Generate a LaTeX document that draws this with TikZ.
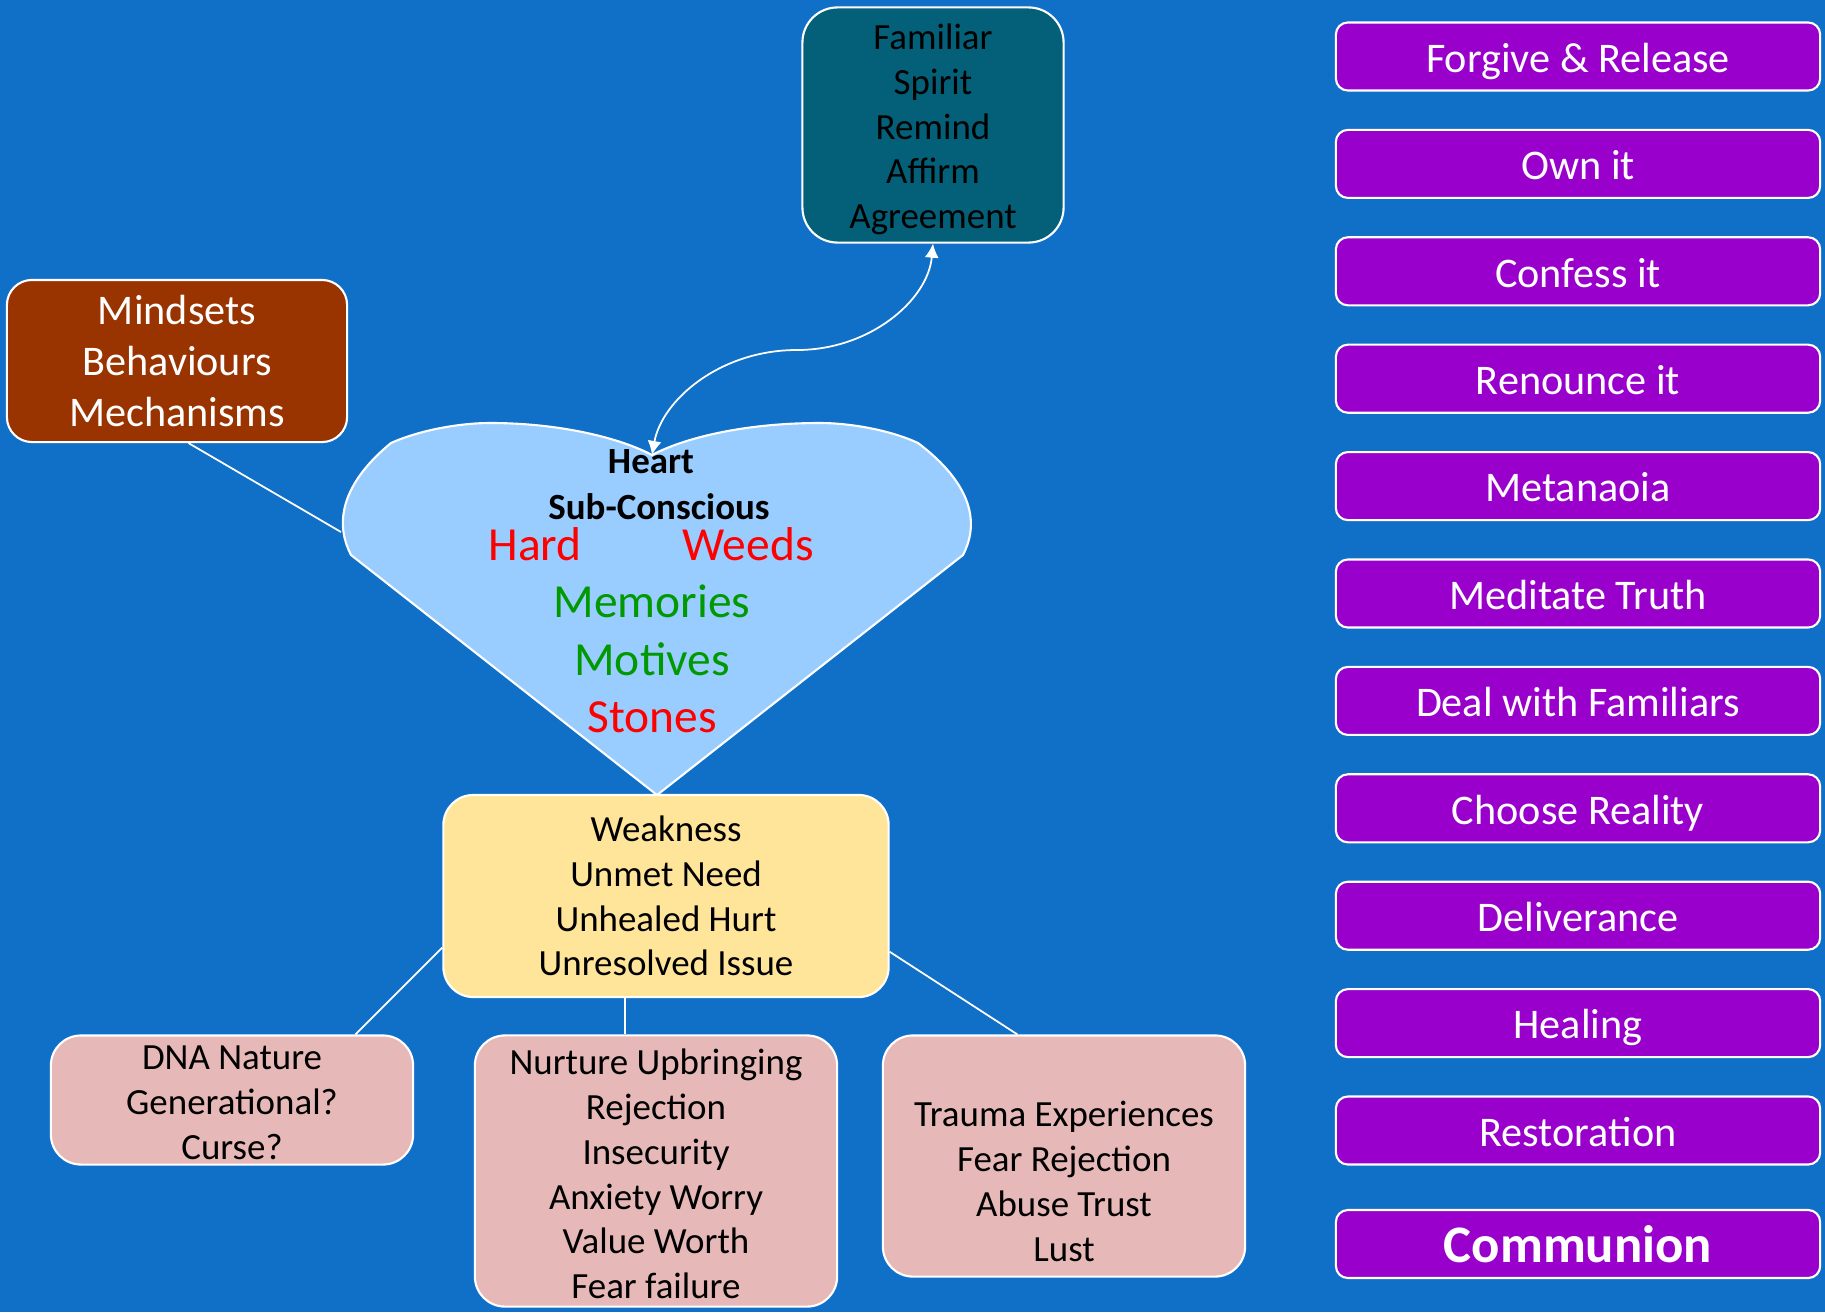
\documentclass[tikz,border=0pt]{standalone}
\usepackage{fontspec}
\setmainfont{Carlito}
\usetikzlibrary{arrows.meta}
\definecolor{bgblue}{RGB}{16,112,200}
\definecolor{teal}{RGB}{4,96,120}
\definecolor{brown}{RGB}{153,51,0}
\definecolor{heartblue}{RGB}{153,204,255}
\definecolor{weakyellow}{RGB}{255,229,153}
\definecolor{rootpink}{RGB}{230,185,184}
\definecolor{actpurple}{RGB}{153,0,204}
\definecolor{wordred}{RGB}{255,0,0}
\definecolor{wordgreen}{RGB}{0,153,0}

\tikzset{
  box/.style={draw=white, line width=0.6pt, align=center, inner sep=2pt},
  famtext/.style={font=\fontsize{10.5}{12.75}\selectfont},
  fambox/.style={box, famtext, fill=teal, rounded corners=0.35cm, minimum width=2.61cm, minimum height=2.35cm},
  mindbox/.style={box, fill=brown, text=white, rounded corners=0.25cm, minimum width=3.4cm, minimum height=1.62cm, font=\fontsize{12}{14.6}\selectfont},
  weakbox/.style={box, famtext, fill=weakyellow, rounded corners=0.3cm, minimum width=4.45cm, minimum height=2.02cm},
  rootbox/.style={box, famtext, fill=rootpink, rounded corners=0.3cm, minimum width=3.62cm},
  actbox/.style={box, fill=actpurple, text=white, rounded corners=0.12cm, minimum width=4.84cm, minimum height=0.68cm, text height=9pt, text depth=0pt, font=\fontsize{12}{14}\selectfont},
  word/.style={inner sep=0pt, font=\fontsize{13.5}{16}\selectfont},
  link/.style={white, line width=0.5pt}
}

\begin{document}
\begin{tikzpicture}[x=0.01cm, y=-0.01cm]
\fill[bgblue] (0,0) rectangle (1825,1312);

% heart
\draw[draw=white, line width=0.6pt, fill=heartblue] (657,795) -- (351,555)
  .. controls (338,530) and (334,490) .. (391,443) .. controls (420,430) and (460,423) .. (490,423)
  .. controls (560,423) and (620,438) .. (652,455) .. controls (684,438) and (744,423) .. (820,423)
  .. controls (850,423) and (890,430) .. (918,443) .. controls (980,490) and (976,530) .. (963,555) -- cycle;
\coordinate (hleft) at (341,532);
\coordinate (hdip) at (652,455);

\node (htitle) at (651,462) [inner sep=0pt, font=\bfseries\fontsize{10.5}{12.75}\selectfont] {Heart};
\node (hsub) at (659,507) [inner sep=0pt, font=\bfseries\fontsize{10.5}{12.75}\selectfont] {Sub-Conscious};
\node (hard) at (535,544) [word, text=wordred] {Hard};
\node (weeds) at (748,544) [word, text=wordred] {Weeds};
\node (memories) at (652,601) [word, text=wordgreen] {Memories};
\node (motives) at (652,659) [word, text=wordgreen] {Motives};
\node (stones) at (652,717) [word, text=wordred] {Stones};

\node (fam) at (933,125) [fambox, text height=59pt, text depth=0pt] {Familiar\\Spirit\\Remind\\Affirm\\Agreement};
\node (mind) at (177,361) [mindbox] {Mindsets\\Behaviours\\Mechanisms};
\node (weak) at (666,896) [weakbox] {Weakness\\Unmet Need\\Unhealed Hurt\\Unresolved Issue};

\node (dna) at (232,1100) [rootbox, minimum height=1.29cm, inner ysep=0pt, text height=34pt] {DNA Nature\\Generational?\\Curse?};
\node (nurt) at (656,1171) [rootbox, minimum height=2.71cm, text height=72.7pt] {Nurture Upbringing\\Rejection\\Insecurity\\Anxiety Worry\\Value Worth\\Fear failure};
\node (trauma) at (1064,1156) [rootbox, minimum height=2.41cm, text height=60pt] {Trauma Experiences\\Fear Rejection\\Abuse Trust\\Lust};

% steps on the right
\foreach \t [count=\i from 0] in {Forgive \& Release, Own it, Confess it, Renounce it, Metanaoia, Meditate Truth, Deal with Familiars, Choose Reality, Deliverance, Healing, Restoration}
  \node (act\i) at (1578,{56.5+107.4*\i}) [actbox] {\t};
\node (act11) at (1578,1244) [actbox, text height=10.5pt, font=\bfseries\fontsize{15}{18}\selectfont] {Communion};

\draw[link] (mind.-82) -- (hleft);
\draw[link] (weak.193) -- (dna.28);
\draw[link] (weak.-112) -- (weak.-112 |- nurt.north);
\draw[link] (weak.-14) -- (trauma.111);
\draw[link, {Latex[length=4pt,width=4pt]}-{Latex[length=4pt,width=4pt]}] (hdip) .. controls (662,400) and (720,350) .. (797,350)
  .. controls (870,350) and (928,300) .. (fam.south);

\end{tikzpicture}
\end{document}
